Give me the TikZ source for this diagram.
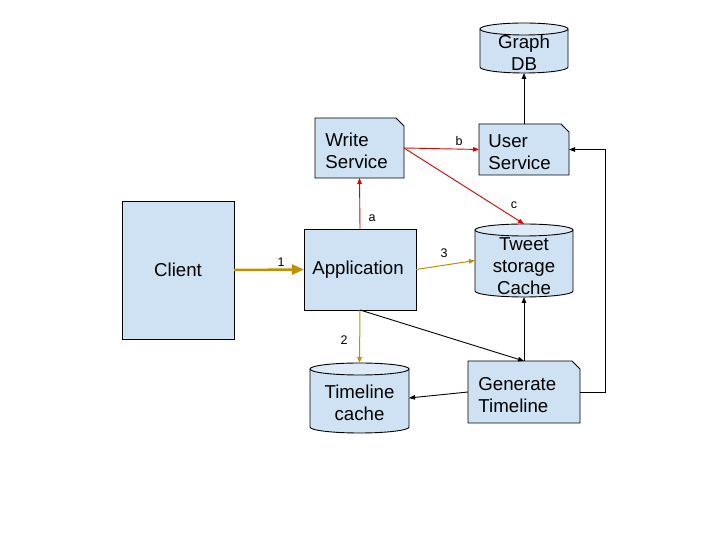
\documentclass[tikz,border=0pt]{standalone}
\usepackage{fontspec}
\setmainfont{Liberation Sans}
\usetikzlibrary{arrows.meta,calc}
\definecolor{boxfill}{HTML}{CFE2F3}
\definecolor{capfill}{HTML}{DEEBF7}
\definecolor{goldline}{HTML}{BF9000}
\definecolor{redline}{HTML}{DD0000}
\newcommand\cylshape[2]{%
  \fill[boxfill] ([yshift=-6pt]#1.north west) -- ([yshift=6pt]#1.south west)
    arc[start angle=180,end angle=360,x radius=#2pt,y radius=6pt]
    -- ([yshift=-6pt]#1.north east) -- cycle;
  \draw ([yshift=-6pt]#1.north west) -- ([yshift=6pt]#1.south west)
    arc[start angle=180,end angle=360,x radius=#2pt,y radius=6pt]
    -- ([yshift=-6pt]#1.north east);
  \draw[fill=capfill] ([yshift=-6pt]#1.north) ellipse[x radius=#2pt,y radius=6pt];
}
\newcommand\docshape[1]{%
  \draw[fill=boxfill] (#1.north west) -- ([xshift=-8pt]#1.north east)
    -- ([yshift=-8pt]#1.north east) -- (#1.south east) -- (#1.south west) -- cycle;
}
\tikzset{
  shapebox/.style={rectangle,inner sep=0pt,outer sep=0pt,draw=none},
  plainbox/.style={shapebox,draw=black,fill=boxfill},
  txt/.style={font=\fontsize{18.67}{22}\selectfont,inner sep=0pt},
  lbl/.style={font=\fontsize{12.5}{14}\selectfont,inner sep=0pt},
  blk/.style={draw=black,line width=0.9pt,-{Triangle[length=6pt,width=4.5pt]}},
  redarr/.style={draw=redline,line width=0.9pt,-{Triangle[length=6pt,width=4.5pt]}},
  goldarr/.style={draw=goldline,line width=1pt,-{Triangle[length=6pt,width=4.5pt]}},
  goldthick/.style={draw=goldline,line width=2.5pt,-{Triangle[length=12pt,width=10pt]}},
}
\begin{document}
\begin{tikzpicture}[x=1pt,y=1pt,line width=0.9pt]
\useasboundingbox (0,0) rectangle (720,540);
% boxes
\node[plainbox,minimum width=112pt,minimum height=138pt] (cl) at (178,270) {};
\node[txt] (clt) at (178,270) {Client};
\node[plainbox,minimum width=112pt,minimum height=81pt] (app) at (360,270.5) {};
\node[txt] (appt) at (358,270.5) {Application};
\node[shapebox,minimum width=89pt,minimum height=60pt] (ws) at (359.5,392) {};
\node[shapebox,minimum width=90pt,minimum height=51pt] (us) at (524,390.5) {};
\node[shapebox,minimum width=112pt,minimum height=62pt] (gt) at (524,148) {};
\node[shapebox,minimum width=88pt,minimum height=50pt] (gd) at (524,492) {};
\node[shapebox,minimum width=98pt,minimum height=73pt] (tw) at (524,279.5) {};
\node[shapebox,minimum width=99pt,minimum height=70pt] (tc) at (359.5,142) {};
\docshape{ws}
\docshape{us}
\docshape{gt}
\cylshape{gd}{44}
\cylshape{tw}{49}
\cylshape{tc}{49.5}
\node[txt,anchor=west,align=left] (wst) at ([xshift=10pt,yshift=-3pt]ws.west) {Write\\Service};
\node[txt,anchor=west,align=left] (ust) at ([xshift=9pt,yshift=-3pt]us.west) {User\\Service};
\node[txt,anchor=west,align=left] (gtt) at ([xshift=10pt,yshift=-3pt]gt.west) {Generate\\Timeline};
\node[txt,align=center] (gdt) at ([yshift=-5pt]gd.center) {Graph\\DB};
\node[txt,align=center] (twt) at ([yshift=-5.5pt]tw.center) {Tweet\\storage\\Cache};
\node[txt,align=center] (tct) at ([yshift=-5pt]tc.center) {Timeline\\cache};
% connectors
\draw[goldthick] (cl.east) -- (app.west);
\draw[redarr] (app.north) -- (ws.south);
\draw[redarr] (ws.east) -- (us.west);
\draw[redarr] (ws.east) -- (tw.north);
\draw[goldarr] (app.east) -- (tw.west);
\draw[goldarr] (app.south) -- (tc.north);
\draw[blk] (app.south) -- (gt.north);
\draw[blk] (gt.north) -- (tw.south);
\draw[blk] (gt.west) -- (tc.east);
\draw[blk] (gt.east) -- ++(25,0) |- (us.east);
\draw[blk] (us.north) -- (gd.south);
% labels
\node[lbl] (l1) at (281,278) {1};
\node[lbl] (la) at (372,322) {a};
\node[lbl] (lb) at (459,399) {b};
\node[lbl] (lc) at (514,335) {c};
\node[lbl] (l3) at (444,287) {3};
\node[lbl] (l2) at (344,200) {2};
\end{tikzpicture}
\end{document}
